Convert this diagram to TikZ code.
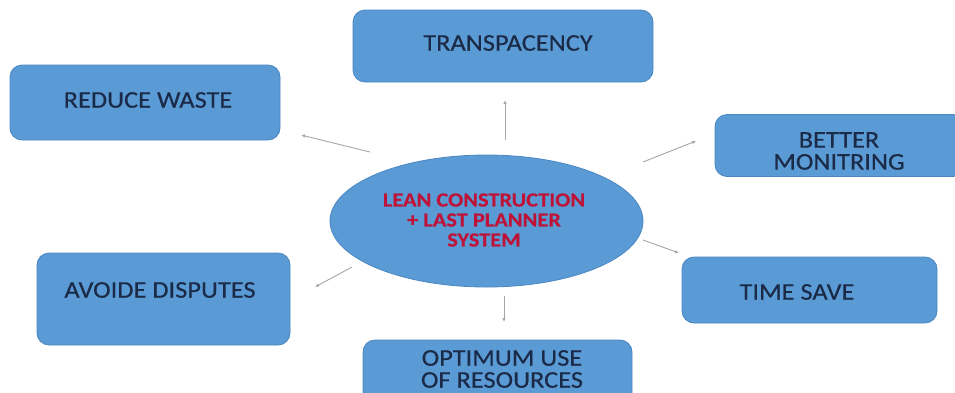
\documentclass[tikz,border=0pt]{standalone}
\usepackage{fontspec}
\setmainfont{Carlito}
\newfontfamily\wideface[FakeStretch=1.1,FakeBold=0.4]{Carlito}
\newfontfamily\widebold[FakeStretch=1.12,FakeBold=0.3]{Carlito Bold}
\usetikzlibrary{shapes.geometric,arrows.meta}
\definecolor{boxfill}{HTML}{5B9BD5}
\definecolor{boxline}{HTML}{4A86C2}
\definecolor{navytxt}{HTML}{1B2A47}
\definecolor{redtxt}{HTML}{BE1238}
\definecolor{arrowgray}{HTML}{A6A6A6}
\tikzset{
  boxshape/.style={draw=boxline, line width=0.8pt, fill=boxfill, rounded corners=12pt, inner sep=0pt},
  boxtext/.style={text=navytxt, font=\wideface\fontsize{24}{22}\selectfont, align=center, inner sep=0pt},
  hubtext/.style={text=redtxt, font=\widebold\fontsize{20}{20}\selectfont, align=center, inner sep=0pt},
  link/.style={draw=arrowgray, line width=0.9pt, -{Latex[length=4pt,width=3.5pt]}}
}
\begin{document}
\begin{tikzpicture}[x=1pt,y=-1pt]
\useasboundingbox (0,0) rectangle (955,392);
% boxes
\node[boxshape, minimum width=300pt, minimum height=72pt] (btr) at (503,46) {};
\node[boxshape, minimum width=270pt, minimum height=75pt] (brw) at (145,102.5) {};
\node[boxshape, minimum width=250pt, minimum height=62pt] (bbm) at (840,145.5) {};
\node[boxshape, minimum width=255pt, minimum height=66pt] (bts) at (809.5,290) {};
\node[boxshape, minimum width=253pt, minimum height=92pt] (bad) at (163.5,299) {};
\node[boxshape, minimum width=269pt, minimum height=70pt] (bop) at (497.5,375) {};
% hub
\node[ellipse, draw=boxline, line width=0.8pt, fill=boxfill, minimum width=313pt, minimum height=132pt, inner sep=0pt] (hub) at (486.5,221) {};
\node[hubtext] (hubt) at (484,220) {LEAN CONSTRUCTION\\+ LAST PLANNER\\SYSTEM};
% texts
\node[boxtext] (ttr) at (508,43) {TRANSPACENCY};
\node[boxtext] (trw) at (148,100) {REDUCE WASTE};
\node[boxtext] (tbm) at (839,151) {BETTER\\MONITRING};
\node[boxtext] (tts) at (797,292) {TIME SAVE};
\node[boxtext] (tad) at (160,290) {AVOIDE DISPUTES};
\node[boxtext] (top) at (502,369) {OPTIMUM USE\\OF RESOURCES};
% connector end points
\coordinate (sup) at (505,140);   \coordinate (eup) at (505,100);
\coordinate (srw) at (370,152);   \coordinate (erw) at (301,135);
\coordinate (sbm) at (643,162);   \coordinate (ebm) at (696,141);
\coordinate (sts) at (643,240);   \coordinate (ets) at (679,253);
\coordinate (sad) at (352,267);   \coordinate (ead) at (315,287);
\coordinate (sop) at (504,296);   \coordinate (eop) at (504,322);
\draw[link] (sup) -- (eup);
\draw[link] (srw) -- (erw);
\draw[link] (sbm) -- (ebm);
\draw[link] (sts) -- (ets);
\draw[link] (sad) -- (ead);
\draw[link] (sop) -- (eop);
\end{tikzpicture}
\end{document}
